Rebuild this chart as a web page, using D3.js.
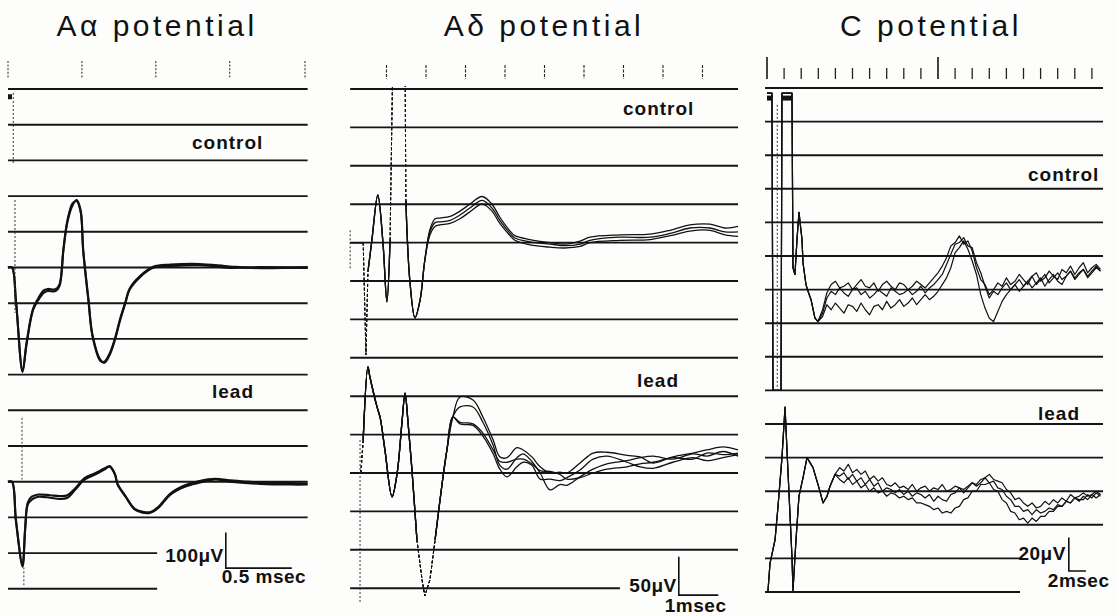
<!DOCTYPE html>
<html>
<head>
<meta charset="utf-8">
<script src="https://cdn.jsdelivr.net/npm/d3@7"></script>
<style>
  body { margin: 0; background: #fff; }
  svg { display: block; }
  .title { font-family: "Liberation Sans", Arial, sans-serif; font-size: 30px; letter-spacing: 3.5px; fill: #111; }
  .label { font-family: "Liberation Sans", Arial, sans-serif; font-weight: bold; font-size: 19px; letter-spacing: 1px; fill: #111; }
  .barText { font-family: "Liberation Sans", Arial, sans-serif; font-weight: bold; font-size: 19px; letter-spacing: 0.5px; fill: #111; }
</style>
</head>
<body>
<div id="chart"></div>
<script>
// ---------- DATA (time in msec, potential in μV relative to each trace's resting level) ----------

// Aα potential
const aTicks = [0, 0.56, 1.12, 1.68, 2.25];
const aBar = [100, 0.5];   // μV, msec
const aCtrlT = [0, 0.03, 0.06, 0.11, 0.14, 0.19, 0.23, 0.27, 0.30, 0.36,
                0.39, 0.42, 0.45, 0.49, 0.52, 0.55, 0.57, 0.61, 0.64, 0.70,
                0.73, 0.77, 0.81, 0.85, 0.89, 0.92, 1.00, 1.10, 1.23, 1.45,
                1.68, 1.91, 2.27];
const aCtrl1 = [0, 0, -91, -293, -217, -119, -91, -71, -66, -66,
                -52, 49, 127, 175, 189, 161, 49, -91, -189, -259,
                -267, -245, -203, -147, -99, -63, -27, -1, 4, 7,
                -1, 1, -1];
const aCtrl2 = [0, 0, -95, -290, -212, -115, -86, -64, -60, -61,
                -47, 52, 132, 180, 186, 156, 44, -96, -192, -262,
                -264, -241, -199, -143, -96, -60, -24, 2, 8, 10,
                3, -2, 1];
const aLeadT = [0, 0.03, 0.06, 0.11, 0.13, 0.15, 0.18, 0.23, 0.32, 0.39,
                0.45, 0.51, 0.58, 0.66, 0.73, 0.77, 0.81, 0.83, 0.89, 0.96,
                1.02, 1.08, 1.14, 1.23, 1.34, 1.45, 1.57, 1.68, 1.91, 2.14,
                2.27];
const aLead1 = [0, 0, -106, -238, -134, -64, -50, -42, -45, -48,
                -45, -22, 6, 20, 34, 42, 20, -8, -42, -78,
                -87, -87, -73, -36, -14, -3, 6, 0, -6, -8,
                -8];
const aLead2 = [0, 0, -110, -232, -130, -58, -42, -36, -38, -40,
                -38, -18, 10, 24, 37, 44, 22, -6, -40, -76,
                -84, -85, -70, -33, -10, 2, 8, 4, -2, -4,
                -5];
const aCtrlArt = [[0.04, 489, 293], [0.053, 189, -127]];
const aLeadArt = [[0.106, 179, 6], [0.12, -240, -290]];
const aCtrlCaps = [[0, 0.03, 478]];

// Aδ potential
const bTicks = [1, 2, 3, 4, 5, 6, 7, 8, 9];
const bBar = [50, 1];
const bCtrlStartT = [0.08, 0.41, 0.48, 0.53, 0.63, 0.78, 0.91, 1.01, 1.09, 1.16,
                     1.47, 1.49, 1.59, 1.72, 1.85, 1.97];
const bCtrlStartV = [0, 0, -146, -38, 3, 62, 0, -77, 3, 240,
                     240, 55, -49, -98, -75, -23];
const bCtrlT = [2.10, 2.23, 2.35, 2.61, 2.86, 3.11, 3.42, 3.67, 3.87, 4.13,
                4.25, 4.63, 5.14, 5.52, 5.90, 6.15, 6.91, 7.67, 8.18, 8.68,
                9.19, 9.57, 9.90];
const bCtrl1 = [14, 26, 27, 29, 36, 45, 55, 45, 29, 12, 6, 1, -2, -4, -2, 3, 7, 7, 12, 19, 19, 14, 14];
const bCtrl2 = [10, 21, 23, 25, 31, 40, 50, 41, 25, 9, 3, -3, -6, -7, -5, 0, 3, 4, 9, 15, 16, 10, 8];
const bCtrl3 = [17, 31, 32, 34, 41, 50, 60, 50, 33, 15, 9, 4, 0, -2, 2, 7, 10, 11, 16, 23, 24, 19, 21];
const bLeadStartT = [0.08, 0.35, 0.41, 0.53, 0.58, 0.76, 0.84, 0.96, 1.14, 1.27,
                     1.39, 1.47, 1.54, 1.65, 1.77, 1.90, 1.97, 2.10, 2.23, 2.41,
                     2.53, 2.68];
const bLeadStartV = [0, 0, 43, 138, 125, 86, 72, 30, -31, 0,
                     65, 104, 69, 0, -87, -139, -160, -139, -87, -13,
                     30, 73];
const bLeadT = [2.86, 3.19, 3.44, 3.70, 3.87, 4.05, 4.30, 4.46, 4.68, 4.89,
                5.14, 5.39, 5.57, 5.90, 6.23, 6.58, 7.09, 7.42, 7.75, 8.25,
                8.76, 9.11, 9.52, 9.90];
const bLead1 = [99, 95, 73, 43, 21, 20, 33, 30, 21, 8, 0, 1, 0, 13, 26, 27, 23, 21, 13, 21, 26, 30, 34, 30];
const bLead2 = [86, 86, 66, 36, 10, 5, 20, 25, 15, 0, -22, -15, -16, -5, 5, 12, 16, 20, 22, 18, 25, 22, 28, 22];
const bLead3 = [66, 64, 52, 30, 15, 14, 18, 18, 12, 3, 2, -2, -8, -6, 0, 5, 8, 12, 14, 20, 18, 26, 24, 26];
const bLead4 = [64, 62, 48, 25, 5, -5, 8, 14, 10, -8, -8, -10, -6, 4, 18, 22, 14, 8, 6, 14, 20, 16, 20, 24];
const bCtrlArt = [[0.08, 16, -36]];
const bLeadArt = [[0.33, 43, -169]];

// C potential
const cTicks = [0, 2, 4, 6, 8, 10, 12, 14, 16, 18, 20, 22, 24, 26, 28, 30, 32, 34, 36, 38];
const cTallTicks = [0, 20];
const cBar = [20, 2];
const cCtrlStartT = [0, 0.58, 0.70, 1.64, 1.75, 2.92, 3.04, 3.27, 3.51, 3.74,
                     4.09, 4.21, 4.56, 4.80, 5.15, 5.61, 5.96];
const cCtrlStartV = [117, 117, -60, -60, 117, 117, 13, 9, 30, 46,
                     30, 16, 3, -1, -6, -17, -19];
const cCtrlT = [6.5, 7, 7.5, 8, 8.5, 9, 9.5, 10, 10.5, 11,
                11.5, 12, 12.5, 13, 13.5, 14, 14.5, 15, 15.5, 16,
                16.5, 17, 17.5, 18, 18.5, 19, 19.5, 20, 20.5, 21,
                21.5, 22, 22.5, 23, 23.5, 24, 24.5, 25, 25.5, 26,
                26.5, 27, 27.5, 28, 28.5, 29, 29.5, 30, 30.5, 31,
                31.5, 32, 32.5, 33, 33.5, 34, 34.5, 35, 35.5, 36,
                36.5, 37, 37.5, 38, 38.5, 39];
const cCtrl1 = [-12, -2, 3, 5, 1, 2, 4, 0, 3, 6,
                2, 1, 4, -1, 3, 5, 2, 0, 4, 3,
                0, 2, 5, 3, 1, 4, 7, 10, 14, 19,
                26, 28, 32, 27, 29, 23, 13, 6, 3, -3,
                0, 4, 2, 7, 3, 5, 9, 6, 3, 8,
                10, 5, 7, 11, 8, 6, 12, 10, 14, 9,
                13, 16, 10, 13, 15, 12];
const cCtrl2 = [-14, -5, -1, -3, 1, -2, -4, 0, 1, -3,
                -1, -5, -3, 0, -2, -4, 1, -1, -3, -2,
                0, -3, -1, 2, -2, 1, 3, 6, 9, 15,
                21, 27, 28, 31, 26, 25, 16, 10, 2, -5,
                -1, -3, 1, 4, 0, 3, 6, 2, 5, 8,
                3, 6, 9, 4, 7, 10, 6, 8, 11, 7,
                10, 12, 8, 11, 14, 11];
const cCtrl3 = [-16, -9, -12, -8, -11, -14, -9, -10, -13, -8,
                -12, -15, -10, -9, -12, -7, -11, -9, -6, -10,
                -8, -5, -9, -6, -3, -6, -4, -1, 3, 7,
                13, 22, 25, 29, 24, 17, 9, -3, -11, -17,
                -19, -13, -7, -3, 0, 3, -1, 2, 5, 1,
                4, 7, 2, 6, 9, 5, 3, 8, 11, 6,
                9, 12, 7, 10, 13, 11];
const cLeadStartT = [0, 0.12, 0.35, 0.94, 1.29, 1.75, 2.11, 2.46, 2.92, 3.04,
                     3.39, 3.74, 4.21, 4.68, 5.38, 6.08, 6.55, 7.02, 7.37, 7.95];
const cLeadStartV = [-60, -59, -43, -29, -9, 20, 50, 11, -39, -59,
                     -29, -3, 8, 20, 14, 2, -7, -3, 3, 10];
const cLeadT = [8.5, 9, 9.5, 10, 10.5, 11, 11.5, 12, 12.5, 13,
                13.5, 14, 14.5, 15, 15.5, 16, 16.5, 17, 17.5, 18,
                18.5, 19, 19.5, 20, 20.5, 21, 21.5, 22, 22.5, 23,
                23.5, 24, 24.5, 25, 25.5, 26, 26.5, 27, 27.5, 28,
                28.5, 29, 29.5, 30, 30.5, 31, 31.5, 32, 32.5, 33,
                33.5, 34, 34.5, 35, 35.5, 36, 36.5, 37, 37.5, 38,
                38.5, 39];
const cLead1 = [14, 12, 16, 11, 13, 10, 12, 7, 9, 6,
                8, 4, 3, 5, 2, 3, 1, 4, 0, 2,
                3, 0, 2, 1, 4, 0, 1, 3, 2, 1,
                3, 5, 4, 7, 8, 10, 7, 6, 5, 1,
                -1, -5, -4, -7, -9, -7, -10, -9, -6, -8,
                -5, -7, -4, -6, -2, -4, -3, -1, -3, -2,
                0, -2];
const cLead2 = [9, 11, 7, 10, 6, 8, 4, 7, 3, 5,
                0, 2, 1, -1, 1, -2, 0, -3, -1, -2,
                -4, -2, -6, -3, -5, -6, -2, -1, 2, -1,
                2, 5, 3, 5, 8, 5, 6, 2, 1, -3,
                -5, -9, -9, -12, -11, -14, -11, -13, -12, -10,
                -11, -8, -9, -6, -7, -4, -5, -5, -2, -4,
                -1, -3];
const cLead3 = [7, 5, 8, 4, 6, 2, 4, 0, 2, -1,
                0, -3, -1, -2, -4, -3, -5, -4, -7, -7,
                -8, -9, -11, -10, -13, -12, -13, -10, -9, -5,
                -4, 0, 0, 4, 4, 5, 1, 0, -5, -7,
                -12, -13, -17, -16, -19, -16, -18, -15, -15, -12,
                -12, -9, -9, -6, -7, -4, -6, -3, -5, -2,
                -4, -2];
const cCtrlArt = [[1.2, 110, -60]];
const cCtrlCaps = [[0, 0.6, 114], [1.75, 2.95, 114]];

// ---------- helpers ----------
function pts(t, v) { return t.map((d, i) => [d, v[i]]); }
function sweep(startT, startV, t, v) { return pts(startT, startV).concat(pts(t, v)); }

// split a trace into runs drawn solid / dashed (fast beam sweeps)
function runs(points, windows) {
  const out = [];
  for (let i = 1; i < points.length; i++) {
    const mid = (points[i - 1][0] + points[i][0]) / 2;
    const fast = windows.some(w => mid > w[0] && mid < w[1]);
    const last = out[out.length - 1];
    if (last && last.fast === fast) last.pts.push(points[i]);
    else out.push({ fast: fast, pts: [points[i - 1], points[i]] });
  }
  return out;
}

const smooth = d3.curveCatmullRom.alpha(0.5);

const panels = [
  {
    id: "a", title: "Aα potential", titleX: 157,
    xOrigin: 8, pxPerMs: 132, lineT: [0, 2.27], shortT: 1.13,
    top: 89, step: 35.7, nLines: 15, nShort: 2, uvPerDiv: 100,
    ticks: aTicks, tall: [], tickY: [61, 79], tallY: [56, 79], tickDash: "2,1.6", tickW: 1,
    curve: smooth,
    traces: [
      { base: 5, sweeps: [pts(aCtrlT, aCtrl1), pts(aCtrlT, aCtrl2)], fast: [], w: 2.1, art: aCtrlArt, caps: aCtrlCaps },
      { base: 11, sweeps: [pts(aLeadT, aLead1), pts(aLeadT, aLead2)], fast: [], w: 2.1, art: aLeadArt, caps: [] }
    ],
    ctrlLabel: [192, 149], leadLabel: [212, 398],
    bar: { t: 1.65, div: 13.42, uv: aBar[0], ms: aBar[1], uvText: "100μV", msText: "0.5 msec",
           uvDx: -2, uvDy: -6, msDx: -4, msDy: 15 }
  },
  {
    id: "b", title: "Aδ potential", titleX: 544,
    xOrigin: 347, pxPerMs: 39.5, lineT: [0.08, 9.9], shortT: 6.91,
    top: 89, step: 38.4, nLines: 14, nShort: 1, uvPerDiv: 50,
    ticks: bTicks, tall: [], tickY: [65, 79], tallY: [65, 79], tickDash: "3,1.5", tickW: 1.1,
    curve: smooth,
    traces: [
      { base: 4, sweeps: [bCtrl1, bCtrl2, bCtrl3].map(v => sweep(bCtrlStartT, bCtrlStartV, bCtrlT, v)),
        fast: [[0.41, 0.53], [1.09, 1.49]], w: 1.3, art: bCtrlArt, caps: [] },
      { base: 10, sweeps: [bLead1, bLead2, bLead3, bLead4].map(v => sweep(bLeadStartT, bLeadStartV, bLeadT, v)),
        fast: [[0.35, 0.41], [1.77, 2.23]], w: 1.3, art: bLeadArt, caps: [] }
    ],
    ctrlLabel: [623, 115], leadLabel: [637, 387],
    bar: { t: 8.4, div: 13.18, uv: bBar[0], ms: bBar[1], uvText: "50μV", msText: "1msec",
           uvDx: -2, uvDy: -3, msDx: -14, msDy: 17 }
  },
  {
    id: "c", title: "C potential", titleX: 931,
    xOrigin: 767, pxPerMs: 8.55, lineT: [-0.23, 39.3], shortT: 29.6,
    top: 88, step: 33.6, nLines: 16, nShort: 2, uvPerDiv: 20,
    ticks: cTicks, tall: cTallTicks, tickY: [68, 79], tallY: [57, 79], tickDash: null, tickW: 1.3,
    curve: d3.curveLinear,
    traces: [
      { base: 6, sweeps: [cCtrl1, cCtrl2, cCtrl3].map(v => sweep(cCtrlStartT, cCtrlStartV, cCtrlT, v)),
        fast: [], w: 1.2, art: cCtrlArt, caps: cCtrlCaps },
      { base: 12, sweeps: [cLead1, cLead2, cLead3].map(v => sweep(cLeadStartT, cLeadStartV, cLeadT, v)),
        fast: [], w: 1.2, art: [], caps: [] }
    ],
    ctrlLabel: [1028, 181], leadLabel: [1038, 420],
    bar: { t: 35.3, div: 14.375, uv: cBar[0], ms: cBar[1], uvText: "20μV", msText: "2msec",
           uvDx: -3, uvDy: -11, msDx: -21, msDy: 16 }
  }
];

// ---------- drawing ----------
const svg = d3.select("#chart").append("svg")
  .attr("width", 1118)
  .attr("height", 616);

svg.append("rect").attr("width", 1118).attr("height", 616).attr("fill", "#fdfdfc");

panels.forEach(function(p) {
  const x = d3.scaleLinear().domain([0, 1]).range([p.xOrigin, p.xOrigin + p.pxPerMs]);
  const y = d3.scaleLinear().domain([0, -p.uvPerDiv]).range([p.top, p.top + p.step]);
  const g = svg.append("g");

  // title
  g.append("text").attr("class", "title")
    .attr("x", p.titleX).attr("y", 36)
    .attr("text-anchor", "middle")
    .text(p.title);

  // time marks along the top
  g.selectAll(".tick")
    .data(p.ticks)
    .enter().append("line")
    .attr("x1", d => x(d)).attr("x2", d => x(d))
    .attr("y1", d => p.tall.includes(d) ? p.tallY[0] : p.tickY[0])
    .attr("y2", d => p.tall.includes(d) ? p.tallY[1] : p.tickY[1])
    .attr("stroke", "#222")
    .attr("stroke-width", d => p.tall.includes(d) ? p.tickW + 0.4 : p.tickW)
    .attr("stroke-dasharray", p.tickDash);

  // horizontal reference lines
  const rows = d3.range(p.nLines);
  g.selectAll(".grid")
    .data(rows)
    .enter().append("line")
    .attr("x1", x(p.lineT[0]))
    .attr("x2", i => i >= p.nLines - p.nShort ? x(p.shortT) : x(p.lineT[1]))
    .attr("y1", i => y(-i * p.uvPerDiv))
    .attr("y2", i => y(-i * p.uvPerDiv))
    .attr("stroke", "#151515")
    .attr("stroke-width", 1.9);

  // clip the traces to the screen area
  g.append("clipPath").attr("id", "clip-" + p.id)
    .append("rect")
    .attr("x", x(p.lineT[0]) - 4).attr("y", p.top - 3)
    .attr("width", x(p.lineT[1]) - x(p.lineT[0]) + 10)
    .attr("height", 616 - p.top);

  const tg = g.append("g").attr("clip-path", "url(#clip-" + p.id + ")");

  p.traces.forEach(function(tr) {
    const off = -tr.base * p.uvPerDiv;
    const solid = d3.line().x(d => x(d[0])).y(d => y(d[1] + off)).curve(p.curve);
    const straight = d3.line().x(d => x(d[0])).y(d => y(d[1] + off));

    tr.sweeps.forEach(function(s) {
      runs(s, tr.fast).forEach(function(r) {
        tg.append("path")
          .attr("d", r.fast ? straight(r.pts) : solid(r.pts))
          .attr("fill", "none")
          .attr("stroke", "#111")
          .attr("stroke-width", r.fast ? 1 : tr.w)
          .attr("stroke-dasharray", r.fast ? "3,2" : null)
          .attr("stroke-linejoin", "round");
      });
    });

    // faint fast-beam artefacts
    tr.art.forEach(function(a) {
      tg.append("line")
        .attr("x1", x(a[0])).attr("x2", x(a[0]))
        .attr("y1", y(a[1] + off)).attr("y2", y(a[2] + off))
        .attr("stroke", "#333").attr("stroke-width", 1)
        .attr("stroke-dasharray", "2,2");
    });

    // off-scale stimulus blocks
    tr.caps.forEach(function(c) {
      tg.append("line")
        .attr("x1", x(c[0])).attr("x2", x(c[1]))
        .attr("y1", y(c[2] + off)).attr("y2", y(c[2] + off))
        .attr("stroke", "#111").attr("stroke-width", 5);
    });
  });

  // condition labels
  g.append("text").attr("class", "label")
    .attr("x", p.ctrlLabel[0]).attr("y", p.ctrlLabel[1]).text("control");
  g.append("text").attr("class", "label")
    .attr("x", p.leadLabel[0]).attr("y", p.leadLabel[1]).text("lead");

  // calibration bar
  const b = p.bar;
  const cx = x(b.t), cy = y(-b.div * p.uvPerDiv);
  g.append("path")
    .attr("d", d3.line()([
      [cx, y(-b.div * p.uvPerDiv + b.uv)],
      [cx, cy],
      [x(b.t + b.ms), cy]
    ]))
    .attr("fill", "none").attr("stroke", "#111").attr("stroke-width", 1.6);
  g.append("text").attr("class", "barText")
    .attr("x", cx + b.uvDx).attr("y", cy + b.uvDy)
    .attr("text-anchor", "end").text(b.uvText);
  g.append("text").attr("class", "barText")
    .attr("x", cx + b.msDx).attr("y", cy + b.msDy)
    .text(b.msText);
});
</script>
</body>
</html>
